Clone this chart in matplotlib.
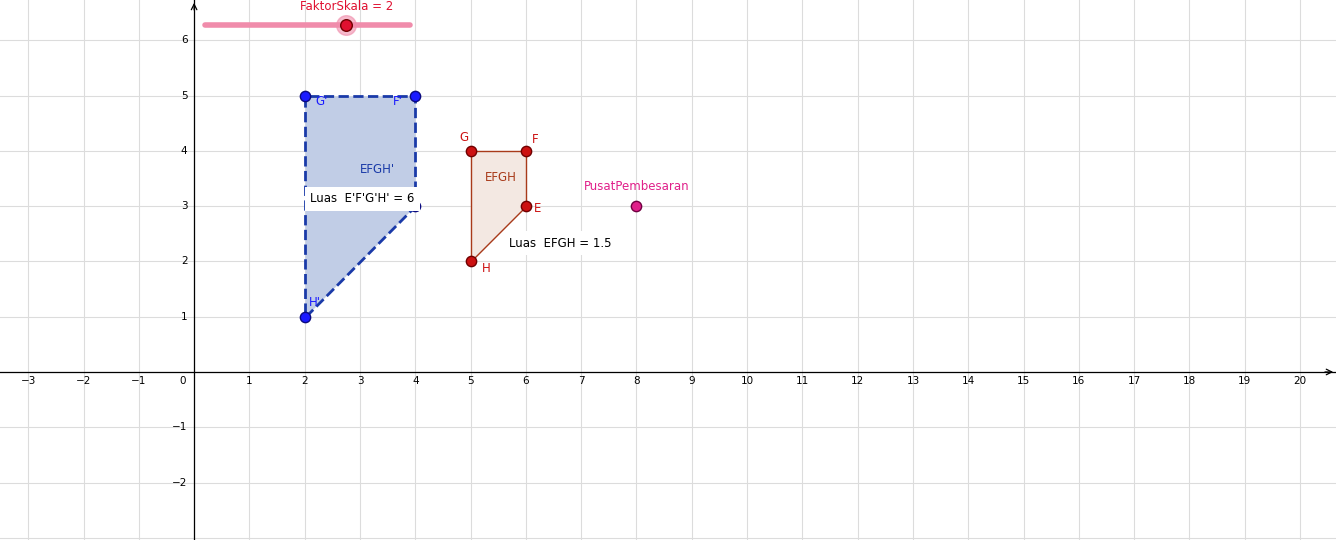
import matplotlib.pyplot as plt
from matplotlib.patches import Polygon

# image polygon E'F'G'H' and original EFGH
img_names = ["E'", "F'", "G'", "H'"]
img_x = [4, 4, 2, 2]
img_y = [3, 5, 5, 1]
orig_names = ["E", "F", "G", "H"]
orig_x = [6, 6, 5, 5]
orig_y = [3, 4, 4, 2]
center = (8, 3)
scale_factor = 2
slider_min, slider_max, slider_val = 0.2, 3.9, 2.75

fig = plt.figure(figsize=(13.36, 5.4), dpi=100)
ax = fig.add_axes([0, 0, 1, 1])
ax.set_xlim(-3.51, 20.65)
ax.set_ylim(-3.04, 6.73)

for gx in range(-3, 21):
    ax.axvline(gx, color='#dcdcdc', lw=0.8, zorder=0)
for gy in range(-3, 7):
    ax.axhline(gy, color='#dcdcdc', lw=0.8, zorder=0)
ax.axhline(0, color='black', lw=0.9, zorder=1)
ax.axvline(0, color='black', lw=0.9, zorder=1)
ax.annotate('', xy=(20.65, 0), xytext=(20.4, 0), arrowprops=dict(arrowstyle='->', color='black', lw=0.9))
ax.annotate('', xy=(0, 6.73), xytext=(0, 6.5), arrowprops=dict(arrowstyle='->', color='black', lw=0.9))

for t in range(-3, 21):
    if t == 0:
        ax.text(-0.15, -0.08, '0', fontsize=7.5, ha='right', va='top')
    else:
        ax.text(t, -0.08, str(t).replace('-', '\u2212'), fontsize=7.5, ha='center', va='top')
for t in range(-2, 7):
    if t != 0:
        ax.text(-0.12, t, str(t).replace('-', '\u2212'), fontsize=7.5, ha='right', va='center')

ax.add_patch(Polygon(list(zip(img_x, img_y)), closed=True, facecolor='#c1cde6',
                     edgecolor='#1a3aa8', lw=2, ls='--', zorder=2))
ax.add_patch(Polygon(list(zip(orig_x, orig_y)), closed=True, facecolor='#f3e8e2',
                     edgecolor='#a83a1a', lw=1, zorder=2))

ax.scatter(img_x, img_y, s=55, color='#1a1aff', edgecolor='#0a0a80', zorder=4)
ax.scatter(orig_x, orig_y, s=55, color='#cc1111', edgecolor='#700000', zorder=4)
ax.scatter([center[0]], [center[1]], s=55, color='#e0208a', edgecolor='#700040', zorder=4)

img_off = {"E'": (0, 0), "F'": (-0.4, -0.1), "G'": (0.2, -0.1), "H'": (0.08, 0.25)}
for n, x, y in zip(img_names, img_x, img_y):
    dx, dy = img_off[n]
    ax.text(x + dx, y + dy, n if n != "E'" else '', color='#1a1aff', fontsize=8.5, va='center')
orig_off = {"E": (0.15, -0.05), "F": (0.1, 0.2), "G": (-0.2, 0.25), "H": (0.2, -0.12)}
for n, x, y in zip(orig_names, orig_x, orig_y):
    dx, dy = orig_off[n]
    ax.text(x + dx, y + dy, n, color='#cc1111', fontsize=8.5, va='center')
ax.text(center[0], center[1] + 0.3, 'PusatPembesaran', color='#e0208a', fontsize=8.5, ha='center')

ax.text(3.0, 3.6, "EFGH'", color='#1a3aa8', fontsize=8.5)
ax.text(5.25, 3.45, "EFGH", color='#a83a1a', fontsize=8.5)
ax.text(2.1, 3.13, "Luas  E'F'G'H' = 6", fontsize=8.5, va='center',
        bbox=dict(facecolor='white', edgecolor='none', pad=4), zorder=5)
ax.text(5.7, 2.33, "Luas  EFGH = 1.5", fontsize=8.5, va='center',
        bbox=dict(facecolor='white', edgecolor='none', pad=4), zorder=5)

ax.plot([slider_min, slider_max], [6.27, 6.27], color='#f08cab', lw=4, solid_capstyle='round', zorder=3)
ax.scatter([slider_val], [6.27], s=200, color='#f08cab', alpha=0.6, zorder=4)
ax.scatter([slider_val], [6.27], s=70, color='#e01030', edgecolor='#700000', zorder=5)
ax.text(slider_val, 6.55, f'FaktorSkala = {scale_factor}', color='#e01030', fontsize=8.5, ha='center')

ax.axis('off')
fig.savefig('out.png', dpi=100)
